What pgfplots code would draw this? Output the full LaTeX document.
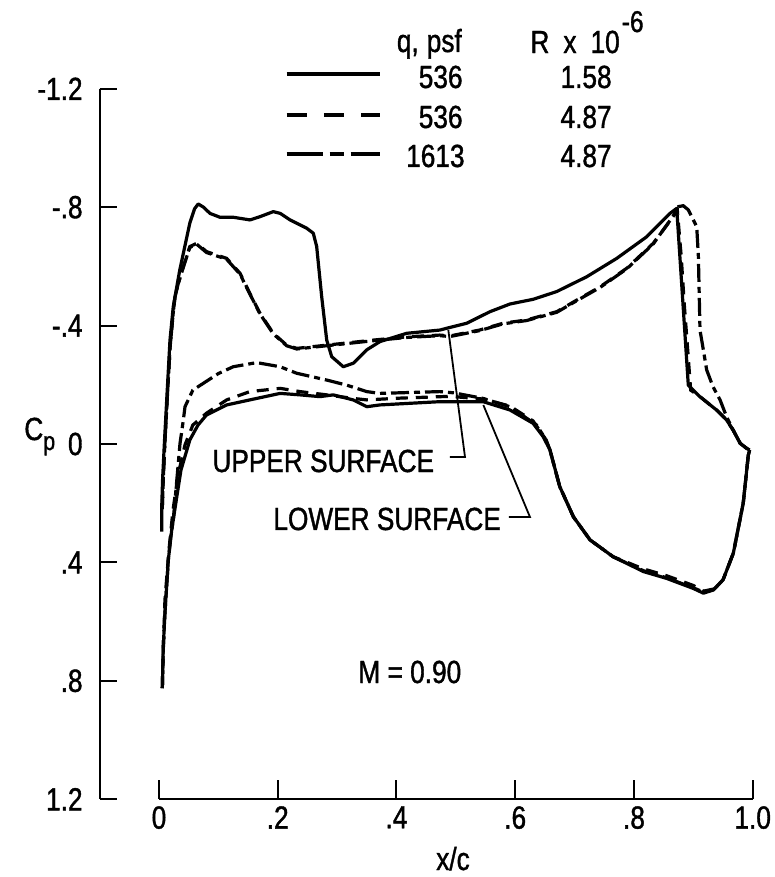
\documentclass[border=0pt]{standalone}
\usepackage{pgfplots}
\pgfplotsset{compat=1.18}
\usepackage{fontspec}
\setmainfont{Liberation Sans}[FakeStretch=0.82,FakeBold=1.2]
\newcommand\ff{\fontsize{16}{19}\selectfont}
\begin{document}
\begin{tikzpicture}[font=\ff]
\begin{axis}[
  scale only axis, width=326.535pt, height=355.2pt,
  xmin=-0.1, xmax=1.0, ymin=-1.2, ymax=1.2, y dir=reverse,
  axis line style={draw=none}, major tick length=0pt, tick style={draw=none},
  xtick={0,0.2,0.4,0.6,0.8,1.0}, xticklabels={0,.2,.4,.6,.8,1.0},
  ytick={-1.2,-0.8,-0.4,0,0.4,0.8,1.2}, yticklabels={-1.2,-.8,-.4,0,.4,.8,1.2},
  tick label style={font=\ff},
  yticklabel style={xshift=-5pt},
  clip=false,
  solidl/.style={black, line width=1.6pt, line join=round},
  dashl/.style={black, line width=1.6pt, dash pattern=on 6pt off 4pt},
  chainl/.style={black, line width=1.6pt, dash pattern=on 9pt off 2.5pt on 3pt off 2.5pt},
]
\coordinate (TL) at (axis cs:-0.2678,-1.5);
\coordinate (BR) at (axis cs:1.0359,1.4628);
% axes
\draw[line width=1pt] (axis cs:-0.1,-1.2) -- (axis cs:-0.1,1.2);
\draw[line width=1pt] (axis cs:0,1.2) -- (axis cs:1.0,1.2);
\pgfplotsinvokeforeach{-1.2,-0.8,-0.4,0,0.4,0.8,1.2}{\draw[line width=1pt] (axis cs:-0.1,#1) -- (axis cs:-0.0714,#1);}
\pgfplotsinvokeforeach{0,0.2,0.4,0.6,0.8,1.0}{\draw[line width=1pt] (axis cs:#1,1.2) -- (axis cs:#1,1.136);}

% solid upper
\addplot[solidl] coordinates {
(0.0045,0.296) (0.0048,0.20) (0.006,0.122) (0.009,0.00) (0.013,-0.149) (0.0185,-0.351)
(0.024,-0.464) (0.035,-0.588) (0.052,-0.747) (0.060,-0.795) (0.066,-0.811) (0.075,-0.800)
(0.0859,-0.779) (0.1027,-0.766) (0.1251,-0.766) (0.1533,-0.757) (0.1701,-0.768) (0.1925,-0.785)
(0.2043,-0.779) (0.2207,-0.757) (0.2488,-0.729) (0.2599,-0.712) (0.2656,-0.667) (0.2740,-0.498)
(0.2825,-0.351) (0.2909,-0.295) (0.3104,-0.261) (0.3273,-0.273) (0.3498,-0.318) (0.3722,-0.346)
(0.4172,-0.374) (0.4733,-0.385) (0.4846,-0.391) (0.5183,-0.408) (0.5575,-0.447) (0.5912,-0.473)
(0.6305,-0.489) (0.6699,-0.515) (0.7204,-0.565) (0.7709,-0.627) (0.8214,-0.700) (0.8607,-0.779)
(0.872,-0.796) (0.8915,-0.199) (0.911,-0.160) (0.939,-0.115) (0.956,-0.081) (0.967,-0.047)
(0.979,-0.002) (0.990,0.015) (0.995,0.02)};
% solid lower
\addplot[solidl] coordinates {
(0.0056,0.825) (0.0072,0.685) (0.010,0.572) (0.0157,0.392) (0.0214,0.291) (0.030,0.178)
(0.037,0.088) (0.052,-0.014) (0.0657,-0.064) (0.080,-0.098) (0.114,-0.132) (0.153,-0.149)
(0.204,-0.171) (0.2375,-0.166) (0.271,-0.160) (0.2936,-0.166) (0.327,-0.149) (0.350,-0.126)
(0.372,-0.132) (0.473,-0.143) (0.546,-0.143) (0.591,-0.115) (0.630,-0.070) (0.647,-0.025)
(0.6585,0.020) (0.675,0.144) (0.698,0.246) (0.726,0.324) (0.765,0.381) (0.816,0.431)
(0.855,0.454) (0.900,0.488) (0.917,0.504) (0.934,0.493) (0.950,0.459) (0.9673,0.369)
(0.984,0.200) (0.9926,0.037) (0.995,0.02)};
% dashed upper
\addplot[dashl] coordinates {
(0.0055,0.22) (0.0072,0.12) (0.0098,0.00) (0.0138,-0.15) (0.0188,-0.33) (0.0238,-0.44)
(0.027,-0.498) (0.0325,-0.543) (0.041,-0.599) (0.052,-0.667) (0.0635,-0.678) (0.080,-0.650)
(0.114,-0.627) (0.1364,-0.577) (0.153,-0.509) (0.170,-0.442) (0.1925,-0.374) (0.215,-0.334)
(0.232,-0.323) (0.2825,-0.334) (0.361,-0.351) (0.417,-0.362) (0.473,-0.368) (0.490,-0.365)
(0.540,-0.385) (0.5796,-0.408) (0.619,-0.419) (0.670,-0.447) (0.7035,-0.486) (0.743,-0.531)
(0.788,-0.594) (0.8325,-0.678) (0.866,-0.768) (0.873,-0.79) (0.8795,-0.635) (0.885,-0.464)
(0.8905,-0.318) (0.8955,-0.182) (0.911,-0.16) (0.939,-0.115) (0.956,-0.081) (0.967,-0.047)
(0.979,-0.002) (0.990,0.015) (0.995,0.02)};
% dashed lower
\addplot[dashl] coordinates {
(0.0056,0.825) (0.0075,0.68) (0.010,0.527) (0.0168,0.358) (0.0236,0.223) (0.032,0.105)
(0.0438,0.003) (0.057,-0.064) (0.080,-0.104) (0.114,-0.149) (0.153,-0.177) (0.204,-0.188)
(0.2375,-0.177) (0.2825,-0.166) (0.327,-0.154) (0.350,-0.149) (0.406,-0.155) (0.490,-0.161)
(0.546,-0.152) (0.591,-0.128) (0.630,-0.078) (0.650,-0.020) (0.6585,0.020) (0.675,0.144)
(0.698,0.246) (0.726,0.324) (0.765,0.381) (0.816,0.422) (0.855,0.445) (0.900,0.478)
(0.917,0.497) (0.934,0.490) (0.950,0.459) (0.9673,0.369) (0.984,0.200) (0.9926,0.037)
(0.995,0.02)};
% chain upper
\addplot[chainl] coordinates {
(0.0055,0.22) (0.0072,0.12) (0.0098,0.00) (0.0138,-0.15) (0.0188,-0.33) (0.0238,-0.44)
(0.0268,-0.495) (0.0322,-0.540) (0.0408,-0.596) (0.0518,-0.664) (0.0635,-0.675) (0.080,-0.647)
(0.114,-0.624) (0.1364,-0.574) (0.153,-0.507) (0.170,-0.440) (0.1925,-0.372) (0.215,-0.332)
(0.232,-0.321) (0.2825,-0.332) (0.361,-0.349) (0.417,-0.360) (0.473,-0.366) (0.490,-0.363)
(0.540,-0.383) (0.5796,-0.406) (0.619,-0.417) (0.670,-0.445) (0.7035,-0.484) (0.743,-0.529)
(0.788,-0.592) (0.8325,-0.676) (0.866,-0.770) (0.875,-0.802) (0.883,-0.805) (0.8915,-0.791)
(0.9057,-0.734) (0.9085,-0.633) (0.9112,-0.385) (0.9225,-0.250) (0.933,-0.194) (0.945,-0.149)
(0.956,-0.092) (0.967,-0.047) (0.979,-0.002) (0.990,0.015)};
% chain lower
\addplot[chainl] coordinates {
(0.0056,0.825) (0.0072,0.685) (0.010,0.572) (0.0157,0.392) (0.0197,0.313) (0.024,0.257)
(0.030,0.122) (0.0354,-0.002) (0.041,-0.081) (0.0438,-0.126) (0.057,-0.182) (0.080,-0.212)
(0.100,-0.238) (0.125,-0.261) (0.1646,-0.275) (0.204,-0.261) (0.232,-0.239) (0.2825,-0.216)
(0.316,-0.199) (0.350,-0.177) (0.372,-0.171) (0.473,-0.177) (0.496,-0.173) (0.546,-0.154)
(0.591,-0.126) (0.636,-0.064) (0.652,-0.014) (0.6585,0.020) (0.675,0.144) (0.698,0.246)
(0.726,0.324) (0.765,0.381) (0.816,0.428) (0.855,0.452) (0.900,0.486) (0.917,0.500)
(0.934,0.492) (0.950,0.459) (0.9673,0.369) (0.984,0.200) (0.9926,0.037) (0.995,0.02)};

% leaders
\draw[line width=0.9pt] (axis cs:0.4901,0.0439) -- (axis cs:0.5154,0.0439) -- (axis cs:0.4873,-0.3851);
\draw[line width=0.9pt] (axis cs:0.5895,0.2466) -- (axis cs:0.6248,0.2466) -- (axis cs:0.5463,-0.1318);
% texts
\node[anchor=base west,inner sep=0pt,font=\ff] at (axis cs:0.0893,0.0946) {UPPER SURFACE};
\node[anchor=base west,inner sep=0pt,font=\ff] at (axis cs:0.1920,0.2905) {LOWER SURFACE};
\node[anchor=base west,inner sep=0pt,font=\ff] at (axis cs:0.3352,0.8074) {M = 0.90};
\node[anchor=base west,inner sep=0pt,font=\ff] at (axis cs:-0.2275,-0.0135) {C\raisebox{-5pt}{\fontsize{13}{15}\selectfont p}};
\node[anchor=base,inner sep=0pt,font=\ff] at (axis cs:0.4952,1.4392) {x/c};
% legend
\node[anchor=base west,inner sep=0pt,font=\ff] at (axis cs:0.4000,-1.3243) {q,\hspace{4pt}psf};
\node[anchor=base west,inner sep=0pt,font=\ff] at (axis cs:0.6250,-1.3209) {R\hspace{7pt}x\hspace{7pt}10\hspace{1pt}\raisebox{10.5pt}{\fontsize{15}{18}\selectfont -6}};
\draw[line width=1.6pt] (axis cs:0.2151,-1.25) -- (axis cs:0.3722,-1.25);
\draw[line width=1.6pt, dash pattern=on 10pt off 8.6pt] (axis cs:0.2151,-1.1115) -- (axis cs:0.3722,-1.1115);
\draw[line width=1.6pt, dash pattern=on 18pt off 3.5pt on 7pt off 3.5pt] (axis cs:0.2151,-0.9797) -- (axis cs:0.3722,-0.9797);
\node[anchor=base east,inner sep=0pt,font=\ff] at (axis cs:0.5120,-1.2027) {536};
\node[anchor=base east,inner sep=0pt,font=\ff] at (axis cs:0.5120,-1.0676) {536};
\node[anchor=base east,inner sep=0pt,font=\ff] at (axis cs:0.5154,-0.9358) {1613};
\node[anchor=base east,inner sep=0pt,font=\ff] at (axis cs:0.7630,-1.2027) {1.58};
\node[anchor=base east,inner sep=0pt,font=\ff] at (axis cs:0.7630,-1.0676) {4.87};
\node[anchor=base east,inner sep=0pt,font=\ff] at (axis cs:0.7630,-0.9358) {4.87};
\end{axis}
\pgfresetboundingbox
\useasboundingbox (TL) rectangle (BR);
\end{tikzpicture}
\end{document}
